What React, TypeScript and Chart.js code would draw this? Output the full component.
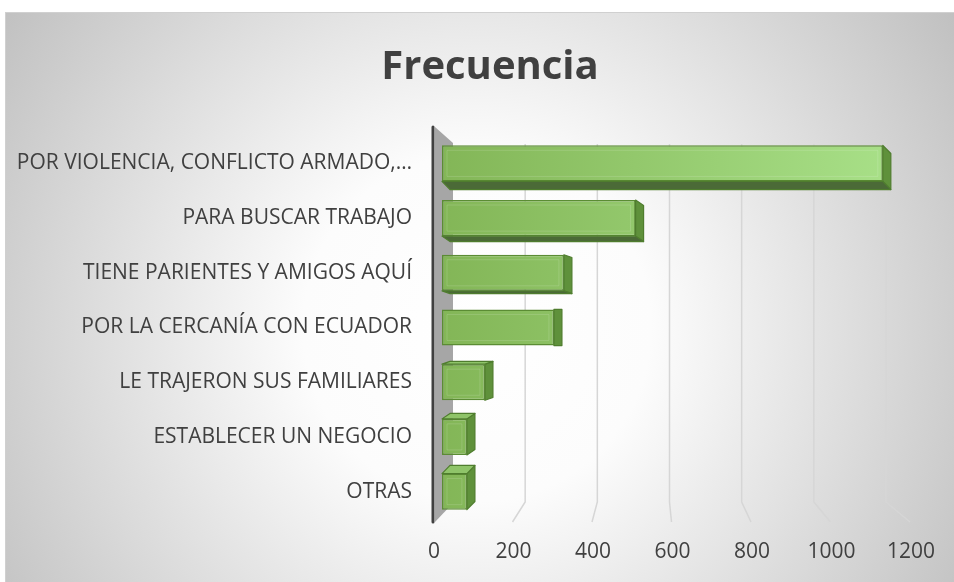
import { useEffect, useRef } from "react";
import { Chart, registerables } from "chart.js";

Chart.register(...registerables);

const chartTitle = "Frecuencia";
const categories = [
  "POR VIOLENCIA, CONFLICTO ARMADO,…",
  "PARA BUSCAR TRABAJO",
  "TIENE PARIENTES Y AMIGOS AQUÍ",
  "POR LA CERCANÍA CON ECUADOR",
  "LE TRAJERON SUS FAMILIARES",
  "ESTABLECER UN NEGOCIO",
  "OTRAS",
];
const frecuencia = [1150, 505, 318, 292, 112, 65, 65];
const xTicks = [0, 200, 400, 600, 800, 1000, 1200];

const FONT = "'Open Sans', 'DejaVu Sans', sans-serif";
const TEXT = "#404040";

// 3D styling helpers (wall depth / perspective of the floor)
const WALL_FRONT = -9;
const WALL_BACK = 11;
const BACK_K = 0.9413;
const FRONT_K = 1.037;

const excel3d = {
  id: "excel3d",
  beforeDraw(chart: any) {
    const { ctx, width, height, chartArea: a } = chart;
    ctx.save();
    ctx.fillStyle = "#ffffff";
    ctx.fillRect(0, 0, width, height);
    const cx = width / 2;
    const cy = (a.top + a.bottom) / 2;
    const g = ctx.createRadialGradient(cx, cy, 0, cx, cy, 580);
    g.addColorStop(0, "#ffffff");
    g.addColorStop(0.3, "#fcfcfc");
    g.addColorStop(1, "#bfbfbf");
    ctx.fillStyle = g;
    ctx.fillRect(5, 12, width - 5, height - 12);
    ctx.strokeStyle = "#d0d0d0";
    ctx.lineWidth = 1;
    ctx.strokeRect(5.5, 12.5, width, height);
    // title
    ctx.fillStyle = TEXT;
    ctx.font = `bold 40px ${FONT}`;
    ctx.textAlign = "center";
    ctx.textBaseline = "alphabetic";
    ctx.fillText(chartTitle, width / 2 + 13, 79);
    ctx.restore();
  },
  beforeDatasetsDraw(chart: any) {
    const { ctx, chartArea: a, scales } = chart;
    const xs = scales.x;
    const backX = (px: number) => a.left + WALL_BACK + (px - a.left) * BACK_K;
    const frontX = (px: number) => a.left + WALL_FRONT + (px - a.left) * FRONT_K;
    ctx.save();
    // gridlines (back wall + floor)
    ctx.strokeStyle = "#d6d6d6";
    ctx.lineWidth = 1.5;
    xs.ticks.forEach((t: any) => {
      if (t.value === 0) return;
      const px = xs.getPixelForValue(t.value);
      const bx = backX(px);
      ctx.beginPath();
      ctx.moveTo(bx, a.top + 8);
      ctx.lineTo(bx, a.bottom - 17);
      ctx.lineTo(frontX(px), a.bottom + 3);
      ctx.stroke();
    });
    // side wall
    ctx.fillStyle = "#a6a6a6";
    ctx.beginPath();
    ctx.moveTo(a.left + WALL_FRONT + 2, a.top - 9);
    ctx.lineTo(a.left + WALL_BACK, a.top + 7);
    ctx.lineTo(a.left + WALL_BACK, a.bottom - 16);
    ctx.lineTo(a.left + WALL_FRONT + 2, a.bottom + 3);
    ctx.closePath();
    ctx.fill();
    // axis line
    ctx.strokeStyle = TEXT;
    ctx.lineWidth = 3;
    ctx.lineCap = "round";
    ctx.beginPath();
    ctx.moveTo(a.left + WALL_FRONT, a.top - 9);
    ctx.lineTo(a.left + WALL_FRONT, a.bottom + 3);
    ctx.stroke();
    ctx.restore();
  },
  afterDatasetsDraw(chart: any) {
    const { ctx, chartArea: a } = chart;
    const meta = chart.getDatasetMeta(0);
    const yc = (a.top + a.bottom) / 2;
    const dx = 8;
    ctx.save();
    ctx.lineJoin = "round";
    meta.data.forEach((el: any) => {
      const { x, y, base, height } = el.getProps(["x", "y", "base", "height"], true);
      const top = y - height / 2;
      const bot = y + height / 2;
      const dy = (yc - y) * 0.05;
      ctx.lineWidth = 1.2;
      // side face
      ctx.fillStyle = "#5f913b";
      ctx.strokeStyle = "#4f7d2e";
      ctx.beginPath();
      ctx.moveTo(x, top);
      ctx.lineTo(x + dx, top + dy);
      ctx.lineTo(x + dx, bot + dy);
      ctx.lineTo(x, bot);
      ctx.closePath();
      ctx.fill();
      ctx.stroke();
      if (dy < 0) {
        ctx.fillStyle = "#8fc469";
        ctx.beginPath();
        ctx.moveTo(base, top);
        ctx.lineTo(base + dx, top + dy);
        ctx.lineTo(x + dx, top + dy);
        ctx.lineTo(x, top);
        ctx.closePath();
        ctx.fill();
        ctx.stroke();
      } else if (dy > 0) {
        ctx.fillStyle = "#4b6a37";
        ctx.beginPath();
        ctx.moveTo(base, bot);
        ctx.lineTo(base + dx, bot + dy);
        ctx.lineTo(x + dx, bot + dy);
        ctx.lineTo(x, bot);
        ctx.closePath();
        ctx.fill();
        ctx.stroke();
      }
      // inner bevel highlight
      if (x - base > 14) {
        ctx.strokeStyle = "rgba(255,255,255,0.14)";
        ctx.lineWidth = 1;
        ctx.strokeRect(base + 5, top + 5, x - base - 10, height - 10);
      }
    });
    ctx.restore();
  },
  afterDraw(chart: any) {
    const { ctx, chartArea: a, scales } = chart;
    const xs = scales.x;
    const frontX = (px: number) => a.left + WALL_FRONT + (px - a.left) * FRONT_K;
    ctx.save();
    ctx.fillStyle = TEXT;
    ctx.font = `21px ${FONT}`;
    ctx.textAlign = "center";
    ctx.textBaseline = "middle";
    xs.ticks.forEach((t: any) => {
      const px = xs.getPixelForValue(t.value);
      ctx.fillText(String(t.value), frontX(px) + 1, a.bottom + 33);
    });
    ctx.restore();
  },
};

export default function App() {
  const ref = useRef<HTMLCanvasElement | null>(null);
  useEffect(() => {
    if (!ref.current) return;
    const chart = new Chart(ref.current, {
      type: "bar",
      data: {
        labels: categories,
        datasets: [
          {
            label: chartTitle,
            data: frecuencia,
            backgroundColor: (c: any) => {
              const a = c.chart.chartArea;
              if (!a) return "#8cc063";
              const g = c.chart.ctx.createLinearGradient(a.left, 0, a.right, 0);
              g.addColorStop(0, "#83b657");
              g.addColorStop(1, "#a9e189");
              return g;
            },
            borderColor: "#5b8c34",
            borderWidth: 1.5,
            borderSkipped: false,
            barPercentage: 0.66,
            categoryPercentage: 1,
          },
        ],
      },
      options: {
        indexAxis: "y",
        responsive: false,
        animation: false,
        devicePixelRatio: 1,
        layout: { padding: { top: 136, right: 52, bottom: 0, left: 0 } },
        plugins: {
          legend: { display: false },
          tooltip: { enabled: false },
          title: { display: false },
        },
        scales: {
          x: {
            min: 0,
            max: 1200,
            afterBuildTicks: (s: any) => {
              s.ticks = xTicks.map((v) => ({ value: v }));
            },
            grid: { display: false, drawTicks: false },
            border: { display: false },
            ticks: { display: false },
            afterFit: (s: any) => {
              s.height = 63;
            },
          },
          y: {
            grid: { display: false, drawTicks: false },
            border: { display: false },
            ticks: {
              color: TEXT,
              padding: 30,
              font: { family: FONT, size: 21 },
            },
            afterFit: (s: any) => {
              s.width = 442;
            },
          },
        },
      },
      plugins: [excel3d],
    });
    return () => chart.destroy();
  }, []);
  return (
    <div style={{ position: "fixed", left: 0, top: 0, width: 954, height: 582 }}>
      <canvas ref={ref} width={954} height={582} />
    </div>
  );
}
